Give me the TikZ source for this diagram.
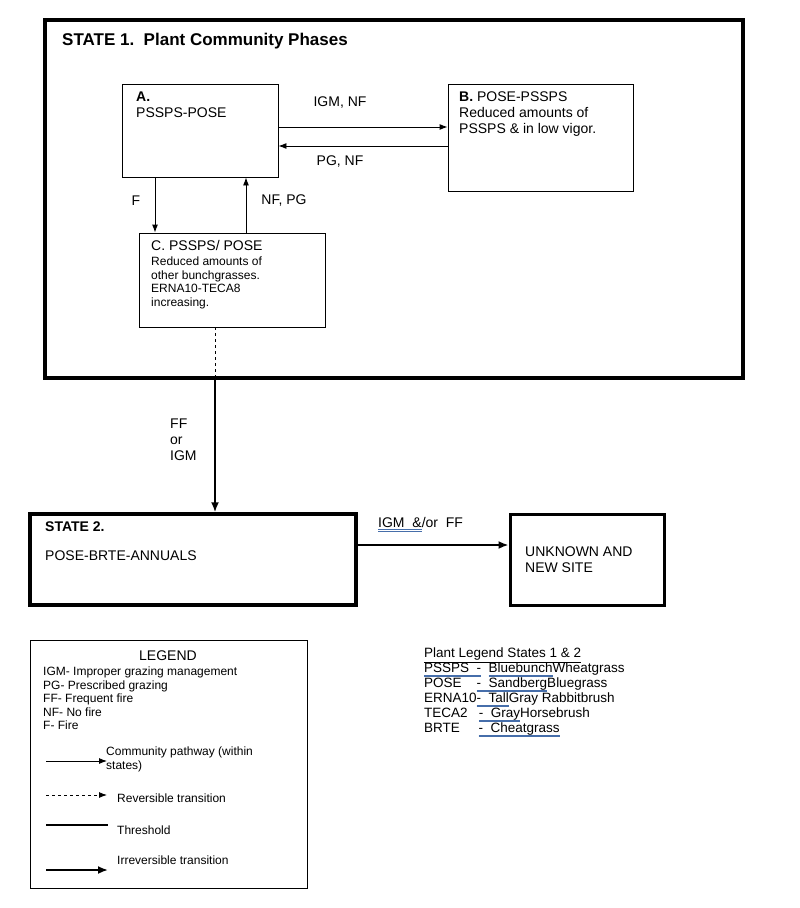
\documentclass[tikz,border=0pt]{standalone}
\usepackage{fontspec}
\setmainfont{Liberation Sans}
\usetikzlibrary{arrows.meta}
\definecolor{ulc}{RGB}{70,110,170}
\newcommand\dul[1]{\setbox0\hbox{#1}\rlap{\color{ulc}\rule[-2.2pt]{\wd0}{0.5pt}}\rlap{\color{ulc}\rule[-3.8pt]{\wd0}{0.5pt}}\box0}
\begin{document}
\begin{tikzpicture}[x=1pt,y=-1pt,
  box/.style={draw,line width=0.9pt},
  thickbox/.style={draw,line width=3.5pt},
  arr/.style={-{Latex[length=8pt,width=6pt]},line width=0.9pt},
  tarr/.style={-{Latex[length=10pt,width=8pt]},line width=1.8pt},
  txt/.style={anchor=north west,inner sep=0pt,align=left,font=\fontsize{14}{16}\selectfont},
  sm/.style={anchor=north west,inner sep=0pt,align=left,font=\fontsize{12}{13.5}\selectfont},
  lbl/.style={inner sep=0pt,font=\fontsize{14}{16}\selectfont}]
\useasboundingbox (0,0) rectangle (800,908);
% State 1
\draw[thickbox] (45,20) rectangle (743,378);
\node[anchor=north west,inner sep=0pt,font=\fontsize{17}{20}\selectfont\bfseries] (t1) at (62,33) {STATE 1.\ \ Plant Community Phases};
% boxes
\node[box,minimum width=156pt,minimum height=93pt] (A) at (200,130.5) {};
\node[txt] (At) at (136,92) {\textbf{A.}\\PSSPS-POSE};
\node[box,minimum width=185pt,minimum height=107pt] (B) at (540.5,137.5) {};
\node[txt] (Bt) at (459,92) {\textbf{B.} POSE-PSSPS\\Reduced amounts of\\PSSPS \& in low vigor.};
\node[box,minimum width=186pt,minimum height=94pt] (C) at (232,280) {};
\node[txt] (Ct) at (151,240) {C. PSSPS/ POSE};
\node[sm] (Cs) at (151,257) {Reduced amounts of\\other bunchgrasses.\\ERNA10-TECA8\\increasing.};
\draw[arr] (A.east|-0,127) -- (B.west|-0,127);
\draw[arr] (B.west|-0,146) -- (A.east|-0,146);
\draw[arr] (155,0|-A.south) -- (155,0|-C.north);
\draw[arr] (246,0|-C.north) -- (246,0|-A.south);
\node[lbl] (l1) at (340,103) {IGM, NF};
\node[lbl] (l2) at (340,162) {PG, NF};
\node[lbl] (l3) at (136,201) {F};
\node[lbl] (l4) at (284,201) {NF, PG};
% State 2
\node[draw,line width=3.5pt,minimum width=326pt,minimum height=91pt] (S2) at (193,559.5) {};
\node[txt] (S2t) at (45,522) {\textbf{STATE 2.}\\[13pt]POSE-BRTE-ANNUALS};
\node[draw,line width=3pt,minimum width=154pt,minimum height=91pt] (U) at (587,559.5) {};
\node[txt] (Ut) at (525,547) {UNKNOWN AND\\NEW SITE};
\coordinate (m) at (215,378);
\draw[dashed,line width=0.9pt] (215,0|-C.south) -- (m);
\draw[tarr] (m) -- (215,0|-S2.north);
\node[txt] (ff) at (170,419) {FF\\or\\IGM};
\draw[tarr] (S2.east|-0,545) -- (U.west|-0,545);
\node[txt] (ig) at (378,517) {\dul{IGM\ \ \&}/or\ \ FF};
% legend
\draw[line width=0.9pt] (30,640) rectangle (307,888);
\node[anchor=north,inner sep=0pt,font=\fontsize{14}{16}\selectfont] (lg) at (168,651) {LEGEND};
\node[sm] (lgt) at (43,667) {IGM- Improper grazing management\\PG- Prescribed grazing\\FF- Frequent fire\\NF- No fire\\F- Fire};
\coordinate (a1) at (46,761); \coordinate (a2) at (107,761);
\draw[arr] (a1) -- (a2);
\node[sm] (p1) at (106,747) {Community pathway (within\\states)};
\coordinate (b1) at (46,795); \coordinate (b2) at (107,795);
\draw[arr,dashed] (b1) -- (b2);
\node[sm] (p2) at (117,794) {Reversible transition};
\coordinate (c1) at (46,825); \coordinate (c2) at (108,825);
\draw[line width=1.8pt] (c1) -- (c2);
\node[sm] (p3) at (117,826) {Threshold};
\coordinate (d1) at (46,870); \coordinate (d2) at (108,870);
\draw[tarr] (d1) -- (d2);
\node[sm] (p4) at (117,856) {Irreversible transition};
% plant legend
\node[anchor=north west,inner sep=0pt,align=left,font=\fontsize{13.5}{15}\selectfont] (pl) at (424,648) {\underline{Plant Legend States 1 \& 2}\\\dul{PSSPS\ \ -}\ \ \dul{Bluebunch} Wheatgrass\\POSE\ \ \ \ \dul{-\ \ Sandberg} Bluegrass\\ERNA10\dul{-\ \ Tall} Gray Rabbitbrush\\TECA2\ \ \ \dul{-\ \ Gray} Horsebrush\\BRTE\ \ \ \ \ \dul{-\ \ Cheatgrass}};
\end{tikzpicture}
\end{document}
